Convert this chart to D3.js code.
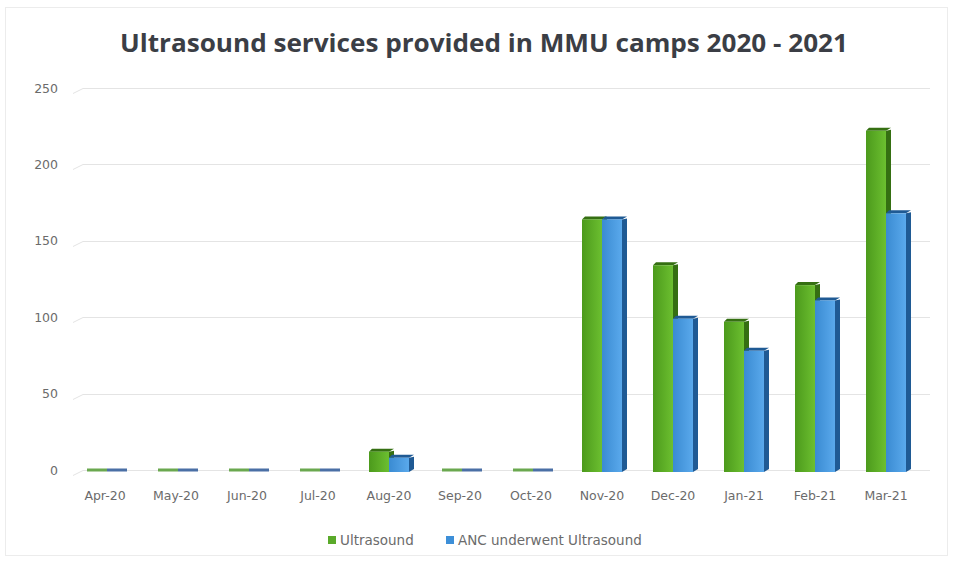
<!DOCTYPE html>
<html>
<head>
<meta charset="utf-8">
<script src="https://cdn.jsdelivr.net/npm/d3@7"></script>
<style>
  body { margin: 0; background: #fff; }
  svg { display: block; font-family: "DejaVu Sans", sans-serif; }
</style>
</head>
<body>
<div id="chart"></div>
<script>
// data
var months = ["Apr-20", "May-20", "Jun-20", "Jul-20", "Aug-20", "Sep-20",
  "Oct-20", "Nov-20", "Dec-20", "Jan-21", "Feb-21", "Mar-21"];
var ultrasound = [0, 0, 0, 0, 12, 0, 0, 164, 134, 97, 121, 222];
var ancUltrasound = [0, 0, 0, 0, 8, 0, 0, 164, 99, 78, 111, 168];
var yTicks = [0, 50, 100, 150, 200, 250];
var seriesNames = ["Ultrasound", "ANC underwent Ultrasound"];

var width = 954, height = 562;
var svg = d3.select("#chart").append("svg")
  .attr("width", width)
  .attr("height", height);

var defs = svg.append("defs");

// horizontal gradients for the front faces
function grad(id, c0, c1) {
  var g = defs.append("linearGradient").attr("id", id)
    .attr("x1", "0%").attr("x2", "100%").attr("y1", "0%").attr("y2", "0%");
  g.append("stop").attr("offset", "0%").attr("stop-color", c0);
  g.append("stop").attr("offset", "100%").attr("stop-color", c1);
}
grad("gGreen", "#4c9a1c", "#6cbf30");
grad("gBlue", "#3a8bd2", "#5aa9ec");

var colors = [
  { front: "url(#gGreen)", side: "#356f12", flat: "#6aa84f" },
  { front: "url(#gBlue)", side: "#1f5a94", flat: "#4a6fa5" }
];

// light frame around the chart
svg.append("rect")
  .attr("x", 5.5).attr("y", 7.5)
  .attr("width", width - 12).attr("height", height - 14)
  .attr("fill", "none").attr("stroke", "#ececec");

var x = d3.scaleBand().domain(months).range([69.5, 921.5]);
var y = d3.scaleLinear().domain([0, 250]).range([470, 88]);

// title
svg.append("text")
  .attr("x", 484).attr("y", 52)
  .attr("text-anchor", "middle")
  .attr("font-family", "'Open Sans', sans-serif")
  .attr("font-size", 25).attr("font-weight", "bold")
  .attr("fill", "#3b3e45")
  .attr("textLength", 728).attr("lengthAdjust", "spacingAndGlyphs")
  .text("Ultrasound services provided in MMU camps 2020 - 2021");

// gridlines with a little slanted wall edge at the left
var grid = svg.append("g");
yTicks.forEach(function (t) {
  var yy = Math.round(y(t)) + 0.5;
  grid.append("path")
    .attr("d", "M73," + (yy + 5) + "L83," + yy + "L930," + yy)
    .attr("fill", "none").attr("stroke", "#e4e4e4").attr("stroke-width", 1);
});

// y axis labels
var yAxis = svg.append("g")
  .attr("transform", "translate(58,0)")
  .call(d3.axisLeft(y).tickValues(yTicks).tickSize(0).tickPadding(0));
yAxis.select(".domain").remove();
yAxis.selectAll("text")
  .attr("font-size", 12.5).attr("fill", "#6b6b6b")
  .attr("font-family", "'DejaVu Sans', sans-serif");

// x axis labels
var xAxis = svg.append("g")
  .attr("transform", "translate(0,489)")
  .call(d3.axisBottom(x).tickSize(0).tickPadding(0));
xAxis.select(".domain").remove();
xAxis.selectAll("text")
  .attr("font-size", 12.5).attr("fill", "#6b6b6b")
  .attr("dy", "0.9em")
  .attr("font-family", "'DejaVu Sans', sans-serif");

// 3D-ish columns
var barW = 20, depth = 5, rise = 3;
var bars = svg.append("g");

function drawBar(g, x0, v, c) {
  var y0 = y(0), y1 = y(v);
  if (v <= 0) {
    // zero value: just a flat slab
    g.append("rect")
      .attr("x", x0 + 2).attr("y", y0 - 1.5)
      .attr("width", barW).attr("height", 3)
      .attr("fill", c.flat);
    return;
  }
  // side face
  g.append("path")
    .attr("d", "M" + (x0 + barW) + "," + y1 +
      "L" + (x0 + barW + depth) + "," + (y1 - rise + 2) +
      "L" + (x0 + barW + depth) + "," + (y0 - 1) +
      "L" + (x0 + barW) + "," + (y0 + 2) + "Z")
    .attr("fill", c.side);
  // top face
  g.append("path")
    .attr("d", "M" + x0 + "," + y1 +
      "L" + (x0 + 3) + "," + (y1 - rise) +
      "L" + (x0 + barW + depth) + "," + (y1 - rise) +
      "L" + (x0 + barW) + "," + y1 + "Z")
    .attr("fill", c.side);
  // front face
  g.append("rect")
    .attr("x", x0).attr("y", y1)
    .attr("width", barW).attr("height", y0 - y1 + 2)
    .attr("fill", c.front);
}

months.forEach(function (m, i) {
  var cx = x(m) + x.bandwidth() / 2;
  var g = bars.append("g");
  drawBar(g, cx - barW, ultrasound[i], colors[0]);
  drawBar(g, cx, ancUltrasound[i], colors[1]);
});

// legend
var legend = svg.append("g").attr("transform", "translate(0,540)");
var legX = [328, 446];
seriesNames.forEach(function (name, i) {
  legend.append("rect")
    .attr("x", legX[i]).attr("y", -4)
    .attr("width", 8).attr("height", 8)
    .attr("fill", i === 0 ? "#5aaa2a" : "#3d8fd8");
  legend.append("text")
    .attr("x", legX[i] + 12).attr("y", 0)
    .attr("dy", "0.35em")
    .attr("font-size", 13.5).attr("fill", "#6b6b6b")
    .text(name);
});
</script>
</body>
</html>
